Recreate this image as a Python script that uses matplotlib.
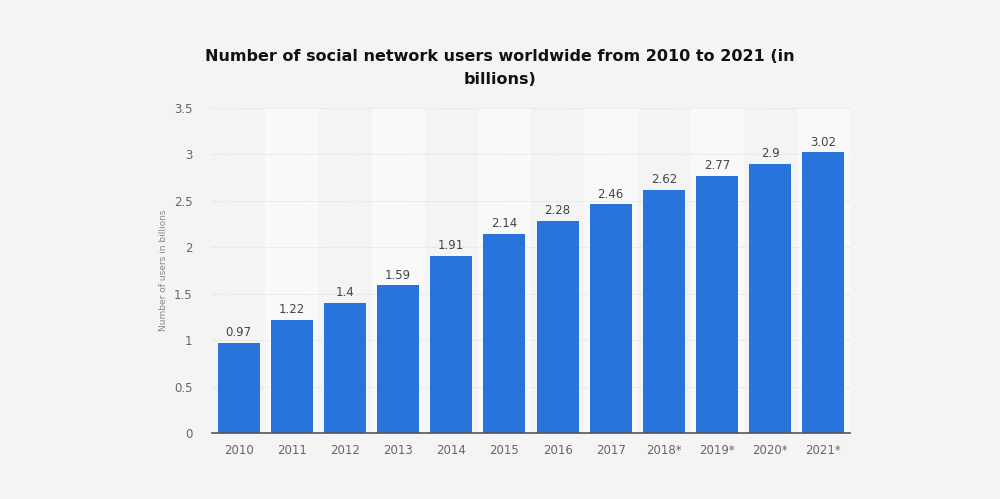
import matplotlib
matplotlib.use('Agg')
import matplotlib.pyplot as plt
import numpy as np

plt.rcParams['font.family'] = ['DejaVu Sans']

# data
years = ['2010', '2011', '2012', '2013', '2014', '2015', '2016', '2017',
         '2018*', '2019*', '2020*', '2021*']
users = [0.97, 1.22, 1.4, 1.59, 1.91, 2.14, 2.28, 2.46, 2.62, 2.77, 2.9, 3.02]
yticks = [0, 0.5, 1, 1.5, 2, 2.5, 3, 3.5]

bg = '#f4f4f4'
blue = '#2874dd'

fig = plt.figure(figsize=(10, 4.99), dpi=100, facecolor=bg)
ax = fig.add_axes([0.212, 0.132, 0.638, 0.652])
ax.set_facecolor(bg)

x = np.arange(len(years))
# alternating column bands
for i in x:
    if i % 2 == 1:
        ax.axvspan(i - 0.5, i + 0.5, color='#f9f9f9', zorder=0, lw=0)

ax.bar(x, users, width=0.79, color=blue, zorder=3)
for xi, v in zip(x, users):
    ax.text(xi, v + 0.04, str(v), ha='center', va='bottom', fontsize=8.5,
            color='#444444', zorder=4)

ax.set_xlim(-0.5, len(years) - 0.5)
ax.set_ylim(0, 3.5)
ax.set_yticks(yticks)
ax.set_yticklabels([('%g' % t) for t in yticks])
ax.set_xticks(x)
ax.set_xticklabels(years)
ax.tick_params(axis='both', length=0, labelsize=8.5, colors='#666666')
ax.tick_params(axis='y', pad=14)
ax.tick_params(axis='x', pad=8)

ax.grid(axis='y', color='#dcdcdc', linestyle=(0, (1, 1.5)), linewidth=0.8, zorder=1)
for s in ['top', 'right', 'left']:
    ax.spines[s].set_visible(False)
ax.spines['bottom'].set_color('#555555')
ax.spines['bottom'].set_linewidth(1.2)
ax.spines['bottom'].set_zorder(5)

ax.set_ylabel('Number of users in billions', fontsize=6.5, color='#888888', labelpad=4)

fig.text(0.5, 0.863, 'Number of social network users worldwide from 2010 to 2021 (in\nbillions)',
         ha='center', va='center', fontsize=11.5, fontweight='bold', color='#111111',
         linespacing=1.65)

plt.savefig('out.png', dpi=100, facecolor=bg)
